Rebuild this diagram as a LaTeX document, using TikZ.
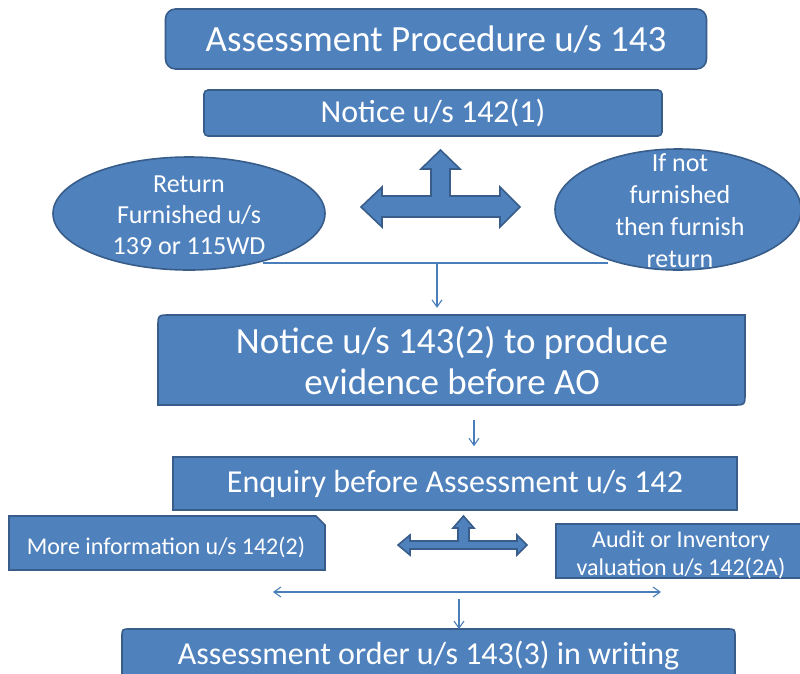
\documentclass[tikz,border=0pt]{standalone}
\usepackage{fontspec}
\setmainfont{Carlito}
\usetikzlibrary{arrows.meta,shapes.geometric}
\definecolor{boxfill}{HTML}{4F81BD}
\definecolor{boxline}{HTML}{385D8A}
\definecolor{thinline}{HTML}{4A7EBB}
\newcommand\fsz[2]{\fontsize{#1}{#2}\selectfont}
\begin{document}
\begin{tikzpicture}[x=1pt,y=-1pt,
  shapefill/.style={fill=boxfill,draw=boxline,line width=1.6pt,line join=miter},
  txt/.style={text=white,align=center,inner sep=0pt},
  plainbox/.style={shapefill,txt},
  thinlink/.style={draw=thinline,line width=1.1pt},
  thinarrow/.style={thinlink,-{Straight Barb[length=7pt,width=10pt]}},
  twoway/.style={thinlink,{Straight Barb[length=7pt,width=10pt]}-{Straight Barb[length=7pt,width=10pt]}}]
\useasboundingbox (0,0) rectangle (800,673);

% title and first notice
\node[plainbox,rounded corners=10pt,minimum width=541pt,minimum height=60pt,
      font=\fsz{37}{43}] (title) at (436,39) {Assessment Procedure u/s 143};
\node[plainbox,rounded corners=4pt,minimum width=458pt,minimum height=46pt,
      font=\fsz{32}{38}] (n142) at (433,113) {Notice u/s 142(1)};

% the two options after the notice
\node[ellipse,shapefill,minimum width=272pt,minimum height=113pt,inner sep=0pt] (le) at (189,213.5) {};
\node[txt,font=\fsz{26}{31}] (letext) at (189,215) {Return\\Furnished u/s\\139 or 115WD};
\node[ellipse,shapefill,minimum width=246pt,minimum height=121pt,inner sep=0pt] (re) at (678,209.5) {};
\node[txt,font=\fsz{26}{32}] (retext) at (680,210.5) {If not\\furnished\\then furnish\\return};

% three-way block arrow
\path[shapefill] (361,207) -- (382,187) -- (382,196) -- (431,196) -- (431,169) -- (421,169)
  -- (440.5,150) -- (460,169) -- (450,169) -- (450,196) -- (500,196) -- (500,187)
  -- (520,207) -- (500,227) -- (500,217) -- (382,217) -- (382,227) -- cycle;

% notice u/s 143(2)
\path[shapefill] (158,405) -- (158,327) .. controls (158,315) .. (170,315) -- (745,315)
  -- (745,393) .. controls (745,405) .. (733,405) -- cycle;
\node[txt,minimum width=587pt,minimum height=90pt,font=\fsz{37}{41}] (n143) at (452,361)
  {Notice u/s 143(2) to produce\\evidence before AO};

% join line and arrow down to 143(2)
\coordinate (jl) at (263,263);
\coordinate (jr) at (608,263);
\coordinate (jm) at (437,263);
\draw[thinlink] (jl) -- (jr);
\draw[thinarrow,shorten >=8pt] (jm) -- (jm |- n143.north);

% enquiry
\coordinate (a1) at (474,420);
\node[plainbox,minimum width=564pt,minimum height=53pt,font=\fsz{32}{38}] (enq) at (455,483.5)
  {Enquiry before Assessment u/s 142};
\draw[thinarrow,shorten >=10pt] (a1) -- (a1 |- enq.north);

% enquiry branches
\path[shapefill] (9,516) -- (316,516) -- (325,525) -- (325,570) -- (9,570) -- cycle;
\node[txt,font=\fsz{24}{28}] (more) at (166,547) {More information u/s 142(2)};
\node[shapefill,minimum width=249pt,minimum height=54pt,inner sep=0pt] (audit) at (680.5,551) {};
\node[txt,font=\fsz{24}{28}] (audittext) at (681,555) {Audit or Inventory\\valuation u/s 142(2A)};
\path[shapefill] (398,545) -- (410,535) -- (410,541) -- (458,541) -- (458,528) -- (453,528)
  -- (463.5,516) -- (474,528) -- (469,528) -- (469,541) -- (517,541) -- (517,535)
  -- (527,545) -- (517,555) -- (517,549) -- (410,549) -- (410,555) -- cycle;

% assessment order
\coordinate (ordertop) at (428.5,629);
\path[shapefill] (122,690) -- (122,637) .. controls (122,629) .. (130,629) -- (727,629)
  .. controls (735,629) .. (735,637) -- (735,690) -- cycle;
\node[txt,font=\fsz{32}{38}] (order) at (428.5,656) {Assessment order u/s 143(3) in writing};

\coordinate (bl) at (273,592);
\coordinate (br) at (661,592);
\coordinate (bm) at (459,599);
\draw[twoway] (bl) -- (br);
\draw[thinarrow] (bm) -- (bm |- ordertop);
\end{tikzpicture}
\end{document}
